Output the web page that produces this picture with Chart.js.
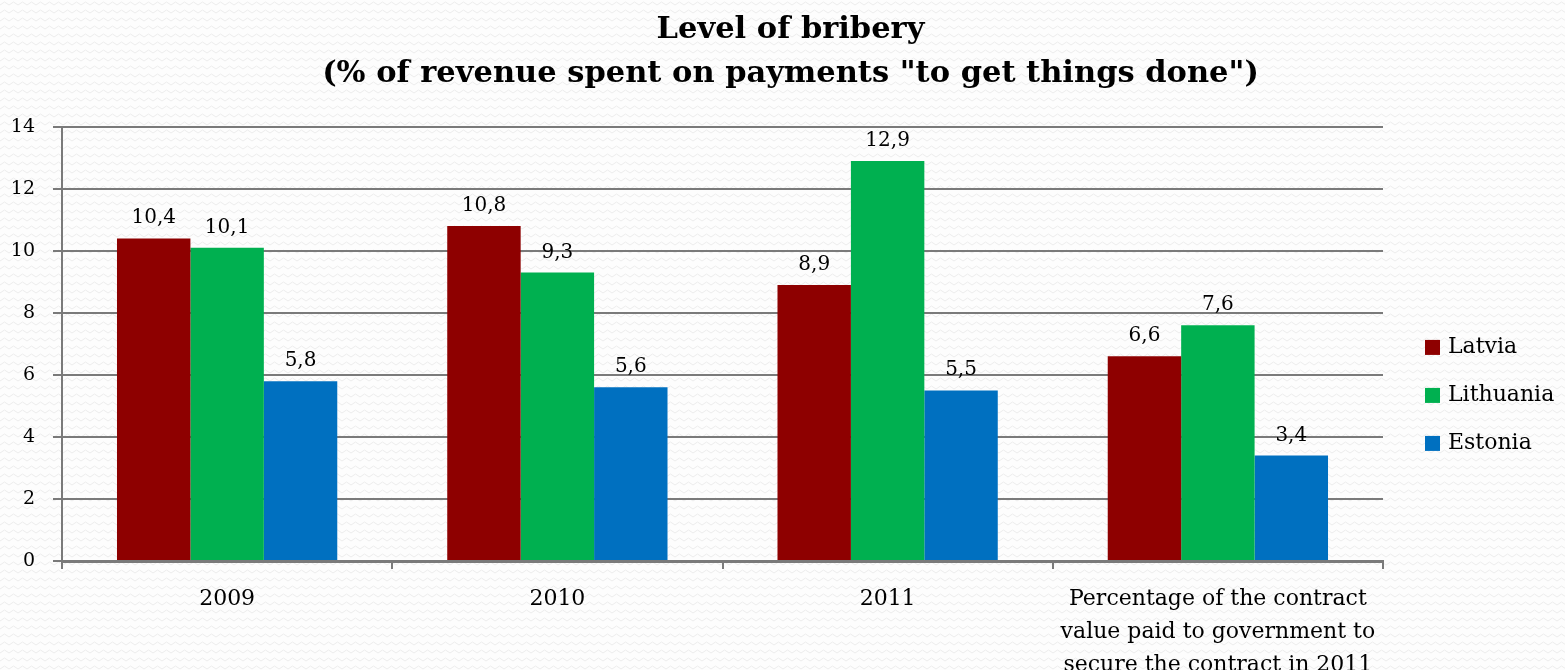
<!DOCTYPE html>
<html>
<head>
<meta charset="utf-8">
<script src="https://cdn.jsdelivr.net/npm/chart.js@4"></script>
<style>
  html, body { margin: 0; padding: 0; }
  body {
    background-color: #fdfdfd;
    background-image: url("data:image/svg+xml,%3Csvg xmlns='http://www.w3.org/2000/svg' width='9' height='8'%3E%3Cpolyline points='0,5 4.5,2 9,5' fill='none' stroke='%23ececec' stroke-width='1'/%3E%3C/svg%3E");
  }
  #wrap { width: 1565px; height: 670px; position: relative; }
</style>
</head>
<body>
<div id="wrap"><canvas id="briberyChart"></canvas></div>
<script>
const categories = [
  '2009',
  '2010',
  '2011',
  ['Percentage of the contract', 'value paid to government to', 'secure the contract in 2011']
];
const latvia = [10.4, 10.8, 8.9, 6.6];
const lithuania = [10.1, 9.3, 12.9, 7.6];
const estonia = [5.8, 5.6, 5.5, 3.4];
const yTicks = [0, 2, 4, 6, 8, 10, 12, 14];

const serif = 'DejaVu Serif';
const gridGray = '#7a7a7a';

// writes the value above every bar, with a decimal comma
const barValues = {
  id: 'barValues',
  afterDatasetsDraw(chart) {
    const ctx = chart.ctx;
    ctx.save();
    ctx.font = '20px "' + serif + '"';
    ctx.fillStyle = '#000';
    ctx.textAlign = 'center';
    ctx.textBaseline = 'alphabetic';
    chart.data.datasets.forEach((ds, i) => {
      chart.getDatasetMeta(i).data.forEach((bar, j) => {
        const txt = String(ds.data[j]).replace('.', ',');
        ctx.fillText(txt, bar.x, bar.y - 15);
      });
    });
    ctx.restore();
  }
};

// legend as its own layout box on the right; the title keeps centring over the full width
const sideLegend = {
  id: 'sideLegend',
  beforeInit(chart) {
    const box = {
      position: 'right',
      weight: 1000,
      fullSize: false,
      options: {},
      isHorizontal() { return false; },
      update(maxWidth, maxHeight) {
        this.width = 198;
        this.height = maxHeight;
      },
      draw() {
        const ctx = chart.ctx;
        const area = chart.chartArea;
        const sets = chart.data.datasets;
        const step = 48;
        const y0 = (area.top + area.bottom) / 2 + 51 - step * (sets.length - 1) / 2;
        const x0 = this.left + 42;
        ctx.save();
        ctx.font = '22px "' + serif + '"';
        ctx.textBaseline = 'middle';
        ctx.textAlign = 'left';
        sets.forEach((ds, i) => {
          const y = y0 + i * step;
          ctx.fillStyle = ds.backgroundColor;
          ctx.fillRect(x0, y - 7, 15, 15);
          ctx.fillStyle = '#000';
          ctx.fillText(ds.label, x0 + 23, y);
        });
        ctx.restore();
      }
    };
    Chart.layouts.addBox(chart, box);
  }
};

const ctx = document.getElementById('briberyChart').getContext('2d');
const chart = new Chart(ctx, {
  type: 'bar',
  data: {
    labels: categories,
    datasets: [
      { label: 'Latvia', data: latvia, backgroundColor: '#8E0000' },
      { label: 'Lithuania', data: lithuania, backgroundColor: '#00B050' },
      { label: 'Estonia', data: estonia, backgroundColor: '#0070C0' }
    ]
  },
  options: {
    responsive: true,
    maintainAspectRatio: false,
    animation: false,
    layout: { padding: { top: 0, right: -16, left: 0, bottom: 0 } },
    datasets: {
      bar: { categoryPercentage: 0.667, barPercentage: 1.0 }
    },
    plugins: {
      title: {
        display: true,
        text: ['Level of bribery', '(% of revenue spent on payments "to get things done")'],
        color: '#000',
        font: { family: serif, size: 30.5, weight: 'bold', lineHeight: 1.44 },
        padding: { top: 8, bottom: 31 }
      },
      legend: { display: false },
      tooltip: { enabled: false }
    },
    scales: {
      x: {
        offset: true,
        grid: {
          offset: true,
          drawOnChartArea: false,
          drawTicks: true,
          tickLength: 8,
          color: gridGray,
          lineWidth: 2
        },
        border: { color: gridGray, width: 3 },
        ticks: {
          color: '#000',
          font: { family: serif, size: 22, lineHeight: 1.5 },
          padding: 14,
          maxRotation: 0,
          autoSkip: false
        },
        afterFit(scale) { scale.height = 109; }
      },
      y: {
        min: 0,
        max: 14,
        afterBuildTicks(scale) { scale.ticks = yTicks.map(v => ({ value: v })); },
        grid: {
          color: gridGray,
          lineWidth: 2,
          tickLength: 9
        },
        border: { color: gridGray, width: 2 },
        ticks: {
          color: '#000',
          font: { family: serif, size: 19 },
          padding: 18
        },
        afterFit(scale) { scale.width = 62; }
      }
    }
  },
  plugins: [barValues, sideLegend]
});
</script>
</body>
</html>
